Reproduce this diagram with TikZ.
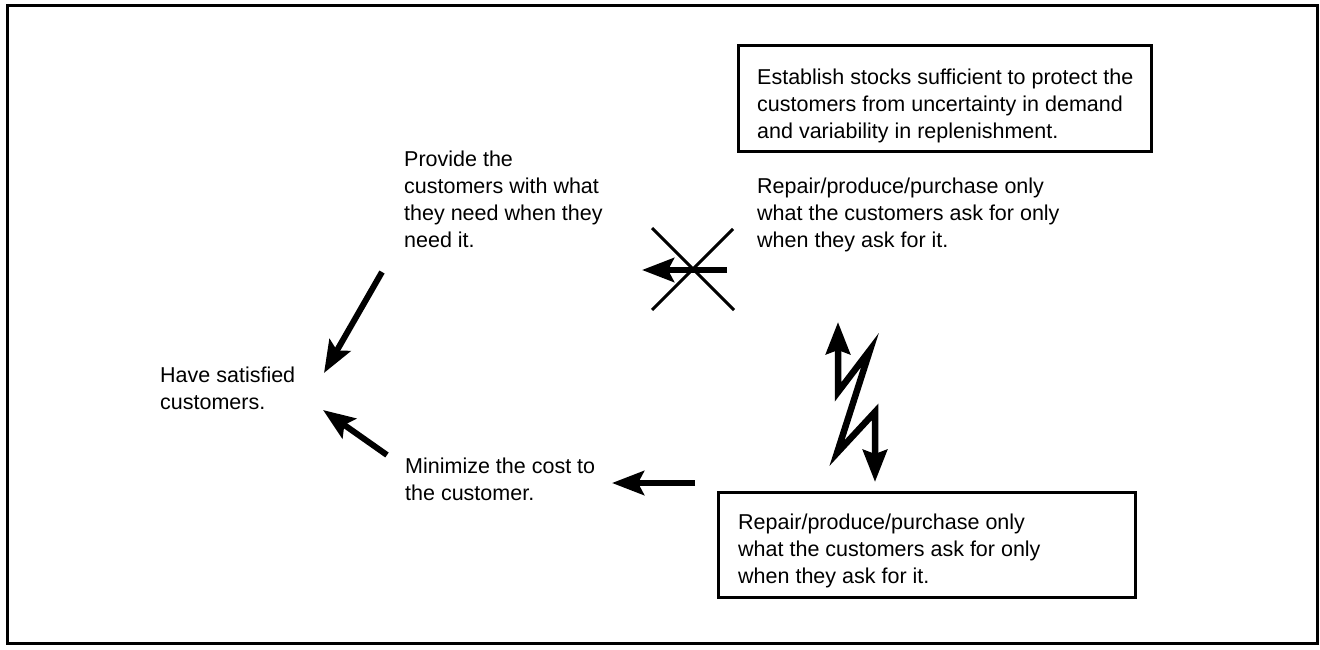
\documentclass[tikz,border=0pt]{standalone}
\usepackage{fontspec}
\setmainfont{Liberation Sans}
\usetikzlibrary{arrows.meta}
\begin{document}
\begin{tikzpicture}[x=1pt,y=-1pt,
  txt/.style={anchor=north west, inner sep=0pt, align=left, font=\fontsize{21.5}{27}\selectfont},
  boxshape/.style={draw, line width=2.8pt, anchor=north west, inner sep=0pt},
  fat/.style={line width=6pt, -{Stealth[length=32pt,width=24pt,inset=6pt]}},
  bolt/.style={line width=6.5pt, line join=miter, {Stealth[length=32pt,width=24pt,inset=4pt]}-{Stealth[length=32pt,width=24pt,inset=4pt]}},
  cross/.style={line width=3pt}]
\useasboundingbox (0,0) rectangle (1320,650);
\draw[line width=3pt] (7,6) rectangle (1317,643);

% boxes
\node[boxshape, minimum width=413pt, minimum height=106pt] (topbox) at (737,44) {};
\node[boxshape, minimum width=417pt, minimum height=105pt] (botbox) at (717,491) {};

% texts
\node[txt] (est) at (757,69) {Establish stocks sufficient to protect the\\customers from uncertainty in demand\\and variability in replenishment.};
\node[txt] (prov) at (404,151) {Provide the\\customers with what\\they need when they\\need it.};
\node[txt] (rep1) at (757,178) {Repair/produce/purchase only\\what the customers ask for only\\when they ask for it.};
\node[txt] (sat) at (160,367) {Have satisfied\\customers.};
\node[txt] (mini) at (405,458) {Minimize the cost to\\the customer.};
\node[txt] (rep2) at (738,514) {Repair/produce/purchase only\\what the customers ask for only\\when they ask for it.};

% connector end points
\coordinate (a1s) at (382,272); \coordinate (a1e) at (324,373);
\coordinate (a2s) at (387,455); \coordinate (a2e) at (323,410);
\coordinate (a3s) at (695,483); \coordinate (a3e) at (612,483);
\coordinate (xs) at (727,270);  \coordinate (xe) at (642,270);
\coordinate (xa) at (652,228); \coordinate (xb) at (734,310);
\coordinate (xc) at (733,229); \coordinate (xd) at (652,310);
\coordinate (b0) at (838,322); \coordinate (b1) at (838,392);
\coordinate (b2) at (870,350); \coordinate (b3) at (837,453);
\coordinate (b4) at (875,412); \coordinate (b5) at (875,482);

\draw[fat] (a1s) -- (a1e);
\draw[fat] (a2s) -- (a2e);
\draw[fat] (a3s) -- (a3e);
\draw[fat] (xs) -- (xe);
\draw[cross] (xa) -- (xb);
\draw[cross] (xc) -- (xd);
\draw[bolt] (b0) -- (b1) -- (b2) -- (b3) -- (b4) -- (b5);
\end{tikzpicture}
\end{document}
